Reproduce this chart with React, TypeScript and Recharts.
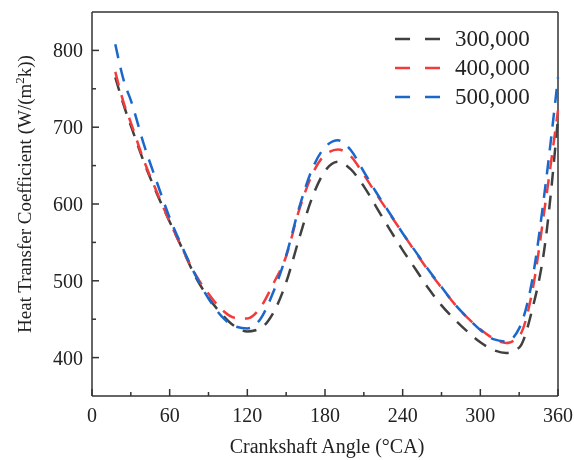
import { Label, Legend, Line, LineChart, ReferenceLine, XAxis, YAxis } from "recharts";

const FONT = '"Liberation Serif", "Times New Roman", serif';
const AXIS = "#333333";
const DASH = "14 10";

const angles = [
  18, 25, 30, 40, 50, 60, 70, 80, 90, 100, 110, 120, 130, 140, 150, 160, 170, 180, 190,
  200, 210, 220, 230, 240, 250, 260, 270, 280, 290, 300, 310, 320, 330, 340, 350, 360,
];

const re300k = [
  765, 726, 702, 655, 614, 577, 541, 505, 478, 457, 441, 434, 438, 458, 498, 555, 608, 643, 655,
  645, 623, 595, 567, 540, 515, 490, 468, 450, 434, 420, 410, 406, 413, 462, 548, 712,
];
const re400k = [
  772, 729, 706, 657, 616, 577, 541, 508, 483, 463, 452, 451, 465, 496, 532, 592, 638, 664, 671,
  662, 638, 612, 587, 562, 537, 513, 491, 470, 452, 437, 425, 419, 428, 485, 598, 722,
];
const re500k = [
  808, 758, 735, 678, 629, 582, 543, 507, 477, 454, 441, 438, 450, 485, 533, 595, 645, 674, 683,
  670, 642, 614, 588, 562, 538, 514, 492, 470, 452, 436, 424, 421, 438, 500, 620, 765,
];

const xTicks = [0, 30, 60, 90, 120, 150, 180, 210, 240, 270, 300, 330, 360];
const yTicks = [400, 450, 500, 550, 600, 650, 700, 750, 800];

const series = [
  { name: "300,000", values: re300k, color: "#404040" },
  { name: "400,000", values: re400k, color: "#f23c3c" },
  { name: "500,000", values: re500k, color: "#1a68cc" },
];

const toRows = (values: number[]) => angles.map((a, i) => ({ angle: a, h: values[i] }));

function XTick(props: any) {
  const { x, y, payload } = props;
  const major = payload.value % 60 === 0;
  return (
    <g>
      <line x1={x} x2={x} y1={y} y2={y - (major ? 7 : 4)} stroke={AXIS} strokeWidth={1.5} />
      {major && (
        <text x={x} y={y + 26} textAnchor="middle" fontSize={20} fontFamily={FONT} fill="#222">
          {payload.value}
        </text>
      )}
    </g>
  );
}

function YTick(props: any) {
  const { x, y, payload } = props;
  const major = payload.value % 100 === 0;
  return (
    <g>
      <line x1={x} x2={x + (major ? 7 : 4)} y1={y} y2={y} stroke={AXIS} strokeWidth={1.5} />
      {major && (
        <text x={x - 9} y={y} dy="0.35em" textAnchor="end" fontSize={20} fontFamily={FONT} fill="#222">
          {payload.value}
        </text>
      )}
    </g>
  );
}

function renderXTitle(props: any) {
  const vb = props.viewBox;
  return (
    <text x={vb.x + vb.width / 2 + 2} y={vb.y + 57} textAnchor="middle" fontSize={20} fontFamily={FONT} fill="#222">
      Crankshaft Angle (°CA)
    </text>
  );
}

function renderYTitle(props: any) {
  const vb = props.viewBox;
  const cx = vb.x + 31;
  const cy = vb.y + vb.height / 2 - 10;
  return (
    <text x={cx} y={cy} transform={`rotate(-90, ${cx}, ${cy})`} textAnchor="middle" fontSize={19} fontFamily={FONT} fill="#222">
      Heat Transfer Coefficient (W/(m
      <tspan dy={-7} fontSize={13}>2</tspan>
      <tspan dy={7}>k))</tspan>
    </text>
  );
}

function LegendBox() {
  return (
    <div style={{ fontFamily: FONT, fontSize: 23, color: "#222" }}>
      {series.map((s) => (
        <div key={s.name} style={{ display: "flex", alignItems: "center", height: 29 }}>
          <svg width={62} height={10}>
            <line x1={2} x2={47} y1={5} y2={5} stroke={s.color} strokeWidth={2.5} strokeDasharray="15 15" />
          </svg>
          <span style={{ lineHeight: "29px" }}>{s.name}</span>
        </div>
      ))}
    </div>
  );
}

export default function App() {
  return (
    <div style={{ position: "fixed", left: 0, top: 0 }}>
      <LineChart width={574} height={460} margin={{ top: 12, right: 16, bottom: 0, left: 0 }}>
        <XAxis
          type="number"
          dataKey="angle"
          domain={[0, 360]}
          ticks={xTicks}
          interval={0}
          tick={<XTick />}
          tickLine={false}
          tickSize={0}
          tickMargin={0}
          height={64}
          axisLine={{ stroke: AXIS, strokeWidth: 1.5 }}
          allowDuplicatedCategory={false}
        >
          <Label content={renderXTitle} />
        </XAxis>
        <YAxis
          type="number"
          domain={[350, 850]}
          ticks={yTicks}
          interval={0}
          tick={<YTick />}
          tickLine={false}
          tickSize={0}
          tickMargin={0}
          width={92}
          axisLine={{ stroke: AXIS, strokeWidth: 1.5 }}
        >
          <Label content={renderYTitle} />
        </YAxis>
        <ReferenceLine y={850} stroke={AXIS} strokeWidth={1.5} />
        <ReferenceLine x={360} stroke={AXIS} strokeWidth={1.5} />
        <Legend
          layout="horizontal"
          verticalAlign="middle"
          align="center"
          content={<LegendBox />}
          wrapperStyle={{ top: 24, left: 393, width: 170 }}
        />
        {series.map((s) => (
          <Line
            key={s.name}
            name={s.name}
            data={toRows(s.values)}
            dataKey="h"
            type="monotone"
            stroke={s.color}
            strokeWidth={2.5}
            strokeDasharray={DASH}
            dot={false}
            isAnimationActive={false}
          />
        ))}
      </LineChart>
    </div>
  );
}
